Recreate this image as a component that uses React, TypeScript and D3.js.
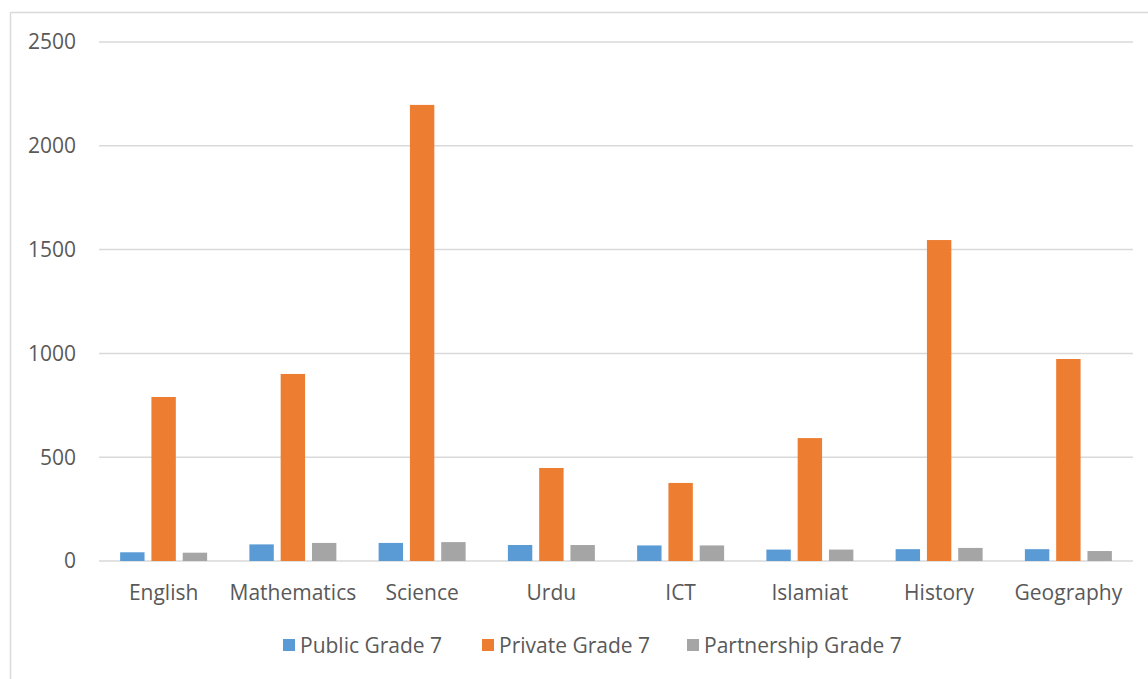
import React, { useEffect } from "react";
import * as d3 from "d3";

const subjects = ["English", "Mathematics", "Science", "Urdu", "ICT", "Islamiat", "History", "Geography"];
const seriesNames = ["Public Grade 7", "Private Grade 7", "Partnership Grade 7"];
const publicGrade7 = [42, 80, 87, 77, 75, 55, 57, 57];
const privateGrade7 = [790, 901, 2197, 448, 376, 592, 1546, 973];
const partnershipGrade7 = [40, 87, 91, 77, 75, 55, 63, 48];
const yTicks = [0, 500, 1000, 1500, 2000, 2500];
const colors = ["#5b9bd5", "#ed7d31", "#a5a5a5"];

const W = 1148;
const H = 679;
const FONT = "'Open Sans', sans-serif";

export default function App() {
  useEffect(() => {
    document.body.style.margin = "0";
  }, []);

  const series = [publicGrade7, privateGrade7, partnershipGrade7];
  const plot = { left: 99, right: 1133, top: 42, bottom: 561 };

  const y = d3.scaleLinear().domain([0, 2500]).range([plot.bottom, plot.top]);
  const x0 = d3
    .scaleBand<string>()
    .domain(subjects)
    .range([plot.left, plot.right])
    .paddingInner(0.327)
    .paddingOuter(0.1635);
  const x1 = d3
    .scaleBand<string>()
    .domain(seriesNames)
    .range([0, x0.bandwidth()])
    .paddingInner(0.22)
    .paddingOuter(0);

  const legendItems = [
    { name: seriesNames[0], x: 283, color: colors[0] },
    { name: seriesNames[1], x: 482, color: colors[1] },
    { name: seriesNames[2], x: 687, color: colors[2] },
  ];

  return (
    <svg width={W} height={H} style={{ display: "block", background: "#fff" }} fontFamily={FONT}>
      {/* chart frame */}
      <line x1={10.5} y1={12.5} x2={W} y2={12.5} stroke="#d9d9d9" strokeWidth={1.5} />
      <line x1={10.5} y1={12.5} x2={10.5} y2={H} stroke="#d9d9d9" strokeWidth={1.5} />

      {/* gridlines and value axis */}
      {yTicks.map((t) => (
        <g key={t}>
          <line x1={plot.left} x2={plot.right} y1={y(t)} y2={y(t)} stroke="#d9d9d9" strokeWidth={1.5} />
          <text x={76} y={y(t)} dy="0.35em" textAnchor="end" fontSize={21} fill="#595959">
            {t}
          </text>
        </g>
      ))}

      {/* bars */}
      {subjects.map((s, i) => (
        <g key={s} transform={`translate(${x0(s)},0)`}>
          {series.map((vals, j) => (
            <rect
              key={seriesNames[j]}
              x={x1(seriesNames[j])}
              y={y(vals[i])}
              width={x1.bandwidth()}
              height={y(0) - y(vals[i])}
              fill={colors[j]}
            />
          ))}
        </g>
      ))}

      {/* category labels */}
      {subjects.map((s) => (
        <text
          key={s}
          x={(x0(s) as number) + x0.bandwidth() / 2}
          y={600}
          textAnchor="middle"
          fontSize={21}
          fill="#595959"
        >
          {s}
        </text>
      ))}

      {/* legend */}
      {legendItems.map((it) => (
        <g key={it.name}>
          <rect x={it.x} y={639} width={12} height={12} fill={it.color} />
          <text x={it.x + 17} y={653} fontSize={21} fill="#595959">
            {it.name}
          </text>
        </g>
      ))}
    </svg>
  );
}
